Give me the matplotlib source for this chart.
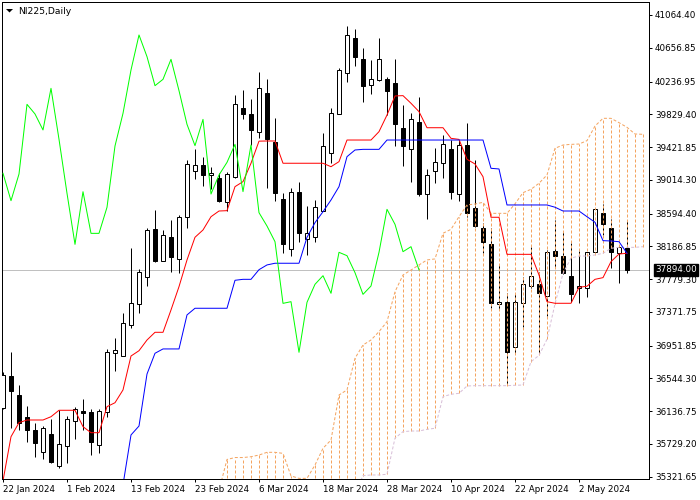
"""
NI225 daily candles with Ichimoku (MT4 style screenshot).
"""

import numpy as np
import matplotlib
matplotlib.use("Agg")
import matplotlib.pyplot as plt
import matplotlib.transforms as mtransforms
from matplotlib.patches import Rectangle, Polygon

# one bar per trading day, 22 Jan 2024 .. 10 May 2024
opens = [36171, 36573, 36337, 36067, 35901, 35632, 35852, 35458, 35706, 36018,
         36138, 36121, 35715, 36130, 36855, 36822, 37208, 37469, 37801, 38398,
         38008, 38298, 38025, 38555, 39128, 39198, 39070, 39032, 38742, 39053,
         39903, 39833, 39605, 40090, 39489, 38771, 38149, 38858, 38273, 38298,
         38630, 39343, 39829, 40339, 40774, 40513, 40194, 40256, 40268, 40214,
         39654, 39393, 39729, 38833, 39128, 39219, 39397, 38833, 39447, 38659,
         38410, 38211, 37465, 37490, 36930, 37477, 37697, 37714, 37568, 38128,
         38066, 37817, 37668, 37664, 38112, 38597, 38410, 38099, 38161]
highs = [36627, 36876, 36461, 36200, 35984, 35951, 36034, 36150, 36076, 36192,
         36283, 36158, 36158, 36905, 37042, 37353, 38161, 37904, 38419, 38638,
         38390, 38514, 38576, 39260, 39397, 39302, 39178, 39095, 39107, 40069,
         40131, 40015, 40359, 40268, 39787, 38846, 38908, 38983, 38688, 38763,
         39592, 39903, 40409, 40928, 40886, 40650, 40505, 40774, 40297, 40513,
         39945, 39841, 40040, 39144, 39405, 39571, 39509, 39509, 39717, 39260,
         38473, 38419, 37962, 37602, 37602, 37809, 38182, 37871, 38141, 38514,
         38369, 38232, 38132, 38112, 38659, 38713, 38526, 38182, 38514]
lows = [36158, 35922, 35901, 35756, 35561, 35537, 35487, 35433, 35487, 35785,
        35901, 35590, 35611, 36067, 36635, 36822, 37166, 37353, 37697, 37987,
        38008, 37871, 37859, 38419, 39024, 38941, 38900, 38734, 38630, 39032,
        39770, 39447, 39530, 38908, 38750, 38099, 38066, 38236, 38079, 38244,
        38630, 39227, 39829, 40235, 40434, 39986, 40082, 40243, 39820, 39439,
        39190, 38991, 38817, 38526, 38978, 39041, 38775, 38750, 38555, 38431,
        38099, 37415, 37394, 36461, 36847, 37187, 37664, 36864, 37320, 37933,
        37842, 37498, 37486, 37560, 38112, 38327, 37913, 37726, 37859]
closes = [36586, 36391, 35993, 35901, 35744, 35922, 35499, 35723, 36034, 36158,
          36117, 35748, 36142, 36876, 36897, 37228, 37477, 37871, 38390, 38008,
          38323, 38058, 38547, 39207, 39198, 39074, 39095, 38754, 39086, 39953,
          39833, 39634, 40152, 39518, 38846, 38211, 38866, 38348, 38348, 38672,
          39435, 39841, 40380, 40816, 40546, 40185, 40264, 40513, 40123, 39704,
          39439, 39766, 38837, 39074, 39231, 39455, 38867, 39447, 38605, 38439,
          38244, 37477, 37498, 36868, 37490, 37714, 37821, 37602, 38112, 38070,
          37859, 37589, 37693, 38112, 38647, 38460, 38120, 38182, 37894]

# Ichimoku lines as drawn (red tenkan, blue kijun, cloud spans)
tenkan = [35270, 35818, 35993, 36026, 36026, 36026, 36067, 36147, 36147, 36147,
          35943, 35868, 35868, 36192, 36241, 36400, 36822, 36888, 37021, 37117,
          37117, 37395, 37685, 38017, 38299, 38390, 38555, 38626, 38630, 38929,
          38991, 39220, 39495, 39497, 39497, 39220, 39220, 39220, 39220, 39220,
          39220, 39177, 39240, 39509, 39509, 39509, 39509, 39613, 39820, 40057,
          40061, 39966, 39862, 39662, 39662, 39662, 39530, 39517, 39269, 39211,
          39053, 38548, 38548, 38087, 38087, 38087, 38087, 37830, 37498, 37478,
          37478, 37478, 37677, 37690, 37776, 37797, 37996, 38091, 38100]
kijun_start = 15
kijun = [35220, 35840, 35951, 36598, 36856, 36910, 36910, 36910, 37333, 37416,
         37416, 37416, 37416, 37416, 37764, 37776, 37776, 37896, 37955, 37976,
         37976, 37976, 37976, 38299, 38481, 38617, 38763, 38929, 39302, 39385,
         39393, 39393, 39393, 39509, 39509, 39509, 39509, 39509, 39509, 39509,
         39509, 39509, 39509, 39509, 39509, 39509, 39157, 39149, 38701, 38701,
         38701, 38701, 38701, 38701, 38673, 38626, 38626, 38626, 38555, 38486,
         38257, 38253, 38244, 38100]
span_a_start = 27
span_a = [35150, 35535, 35559, 35559, 35569, 35590, 35624, 35624, 35611, 35330,
          35300, 35300, 35466, 35674, 35777, 36337, 36400, 36794, 36959, 37021,
          37125, 37249, 37622, 37830, 37892, 37955, 38017, 38030, 38349, 38398,
          38555, 38701, 38713, 38734, 38597, 38597, 38597, 38715, 38854, 38896,
          38971, 39074, 39406, 39447, 39455, 39459, 39501, 39683, 39779, 39779,
          39725, 39667, 39584, 39580]
span_b_start = 44
span_b = [35100, 35334, 35342, 35342, 35351, 35800, 35881, 35889, 35889, 35910,
          35923, 36316, 36346, 36358, 36449, 36453, 36453, 36453, 36453, 36453,
          36458, 36461, 36751, 36830, 37030, 37470, 37850, 38040, 38066, 38066,
          38079, 38100, 38162, 38174, 38174, 38174, 38182]
chikou_shift = 26

date_labels = ["22 Jan 2024", "1 Feb 2024", "13 Feb 2024", "23 Feb 2024",
               "6 Mar 2024", "18 Mar 2024", "28 Mar 2024", "10 Apr 2024",
               "22 Apr 2024", "2 May 2024"]
price_ticks = [41064.40, 40656.85, 40236.95, 39829.40, 39421.85, 39014.30,
               38594.40, 38186.85, 37779.30, 37371.75, 36951.85, 36544.30,
               36136.75, 35729.20, 35321.65]
last_price = 37894.00
symbol = "NI225,Daily"


def padded(values, start):
    # index == bar number, NaN where the line is not drawn
    return np.array([np.nan] * start + list(values), dtype=float)


PX = 0.72  # one screen pixel in points at dpi 100
FS = 6.3

plt.rcParams['font.family'] = ['DejaVu Sans']

fig = plt.figure(figsize=(7, 5), dpi=100, facecolor='white')
ax = fig.add_axes([2 / 700, 21 / 500, 647 / 700, 477 / 500])

n = len(opens)
x = np.arange(n)
ymin, ymax = 35292, 41226

# bid line
ax.axhline(last_price, color='#C0C0C0', lw=PX, zorder=1)

# candles
w = 0.6
for i in range(n):
    o, h, l, c = opens[i], highs[i], lows[i], closes[i]
    ax.vlines(i, l, h, color='black', lw=PX, zorder=2)
    bull = c >= o
    ax.add_patch(Rectangle((i - w / 2, min(o, c)), w, max(abs(c - o), 1),
                           facecolor='white' if bull else 'black',
                           edgecolor='black', lw=PX, zorder=3))

# cloud
sa = padded(span_a, span_a_start)
sb = padded(span_b, span_b_start)
xs = np.arange(len(sa))
dash = (0, (3, 2))
for i in xs:
    if np.isnan(sa[i]):
        continue
    lo = sb[i] if not np.isnan(sb[i]) else ymin - 50
    col = '#F4A460' if sa[i] >= lo else '#D8BFD8'
    ax.vlines(i, min(lo, sa[i]), max(lo, sa[i]), colors=col, lw=PX,
              linestyles=dash, zorder=5)
ax.plot(xs, sa, color='#F4A460', lw=PX, ls=dash, zorder=5)
ax.plot(xs, sb, color='#D8BFD8', lw=PX, ls=dash, zorder=5)

# tenkan / kijun / chikou
ax.plot(np.arange(len(tenkan)), tenkan, color='#FF0000', lw=PX, zorder=6)
kj = padded(kijun, kijun_start)
ax.plot(np.arange(len(kj)), kj, color='#0000FF', lw=PX, zorder=6)
chikou = closes[chikou_shift:]
ax.plot(np.arange(len(chikou)), chikou, color='#00FF00', lw=PX, zorder=6)

ax.set_xlim(-0.125, 80.75)
ax.set_ylim(ymin, ymax)

# axes look
for s in ax.spines.values():
    s.set_linewidth(PX)
    s.set_color('black')
ax.yaxis.tick_right()
ax.set_yticks(price_ticks, [f"{p:.2f}" for p in price_ticks])
ax.set_xticks(range(0, 8 * len(date_labels), 8), date_labels)
for lab in ax.get_xticklabels():
    lab.set_horizontalalignment('left')
ax.tick_params(axis='both', direction='out', length=2.2, width=PX,
               labelsize=FS, pad=2.0, colors='black')

# current price tag
trans = mtransforms.blended_transform_factory(ax.transAxes, ax.transData)
ax.annotate(f"{last_price:.2f}", xy=(1, last_price), xycoords=trans,
            xytext=(4.3, 0), textcoords='offset points', ha='left',
            va='center', fontsize=FS, color='white', zorder=10,
            annotation_clip=False,
            bbox=dict(boxstyle='square,pad=0.15', fc='black', ec='black'))

# symbol caption with the small menu arrow
fig.text(18 / 700, 1 - 11 / 500, symbol, fontsize=FS + 0.4, color='black',
         ha='left', va='center')
fig.add_artist(Polygon([[6 / 700, 1 - 9 / 500], [13 / 700, 1 - 9 / 500],
                        [9.5 / 700, 1 - 12.5 / 500]], closed=True,
                       transform=fig.transFigure, fc='black', ec='none'))

fig.savefig('out.png', dpi=100, facecolor='white')
